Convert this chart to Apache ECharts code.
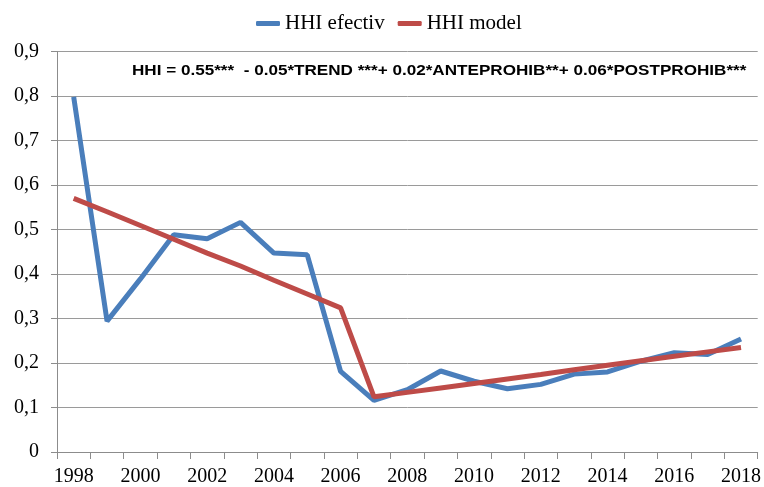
<!DOCTYPE html>
<html>
<head>
<meta charset="utf-8">
<script src="https://cdn.jsdelivr.net/npm/echarts@6/dist/echarts.min.js"></script>
<style>html,body{margin:0;padding:0;background:#fff}#c{width:764px;height:487px}</style>
</head>
<body>
<div id="c"></div>
<script>
var years = ['1998','1999','2000','2001','2002','2003','2004','2005','2006','2007','2008','2009','2010','2011','2012','2013','2014','2015','2016','2017','2018'];
var hhiEfectiv = [0.798,0.294,0.389,0.488,0.479,0.516,0.447,0.443,0.181,0.116,0.140,0.182,0.159,0.142,0.152,0.175,0.180,0.204,0.223,0.219,0.254];
var hhiModel = [0.570,0.540,0.509,0.478,0.447,0.418,0.386,0.355,0.324,0.124,0.134,0.144,0.154,0.164,0.174,0.185,0.195,0.205,0.215,0.225,0.235];
var seriesNames = ['HHI efectiv','HHI model'];
var equation = 'HHI = 0.55***  - 0.05*TREND ***+ 0.02*ANTEPROHIB**+ 0.06*POSTPROHIB***';

var chart = echarts.init(document.getElementById('c'));
var serif = '"Liberation Serif","Times New Roman",serif';
chart.setOption({
  animation: false,
  backgroundColor: '#fff',
  color: ['#4A7EBB', '#BE4B48'],
  legend: {
    top: 8,
    left: 251,
    itemWidth: 24,
    itemHeight: 5,
    itemGap: 13,
    icon: 'roundRect',
    textStyle: { fontFamily: serif, fontSize: 21, color: '#000' },
    data: seriesNames
  },
  grid: { left: 57, right: 6, top: 51.5, bottom: 34.5, containLabel: false },
  xAxis: {
    type: 'category',
    data: years,
    boundaryGap: true,
    axisLine: { lineStyle: { color: '#8c8c8c', width: 1 } },
    axisTick: { show: true, interval: 0, length: 7, lineStyle: { color: '#8c8c8c' } },
    axisLabel: { interval: 1, margin: 15, fontFamily: serif, fontSize: 20, color: '#000' }
  },
  yAxis: {
    type: 'value',
    min: 0, max: 0.9, interval: 0.1,
    axisLine: { show: true, lineStyle: { color: '#8c8c8c', width: 1 } },
    axisTick: { show: true, length: 6, lineStyle: { color: '#8c8c8c' } },
    splitLine: { lineStyle: { color: '#9a9a9a', width: 1 } },
    axisLabel: {
      margin: 18, fontFamily: serif, fontSize: 20, color: '#000',
      formatter: function (v) { return (Math.round(v * 10) / 10).toString().replace('.', ','); }
    }
  },
  graphic: [{
    type: 'text',
    x: 132,
    y: 63,
    scaleX: 1.14,
    style: { text: equation, fontFamily: '"Liberation Sans",Arial,sans-serif', fontWeight: 'bold', fontSize: 15, fill: '#000' }
  }],
  series: [
    { name: seriesNames[0], type: 'line', data: hhiEfectiv, symbol: 'none', lineStyle: { width: 5 } },
    { name: seriesNames[1], type: 'line', data: hhiModel, symbol: 'none', lineStyle: { width: 5 } }
  ]
});
</script>
</body>
</html>
